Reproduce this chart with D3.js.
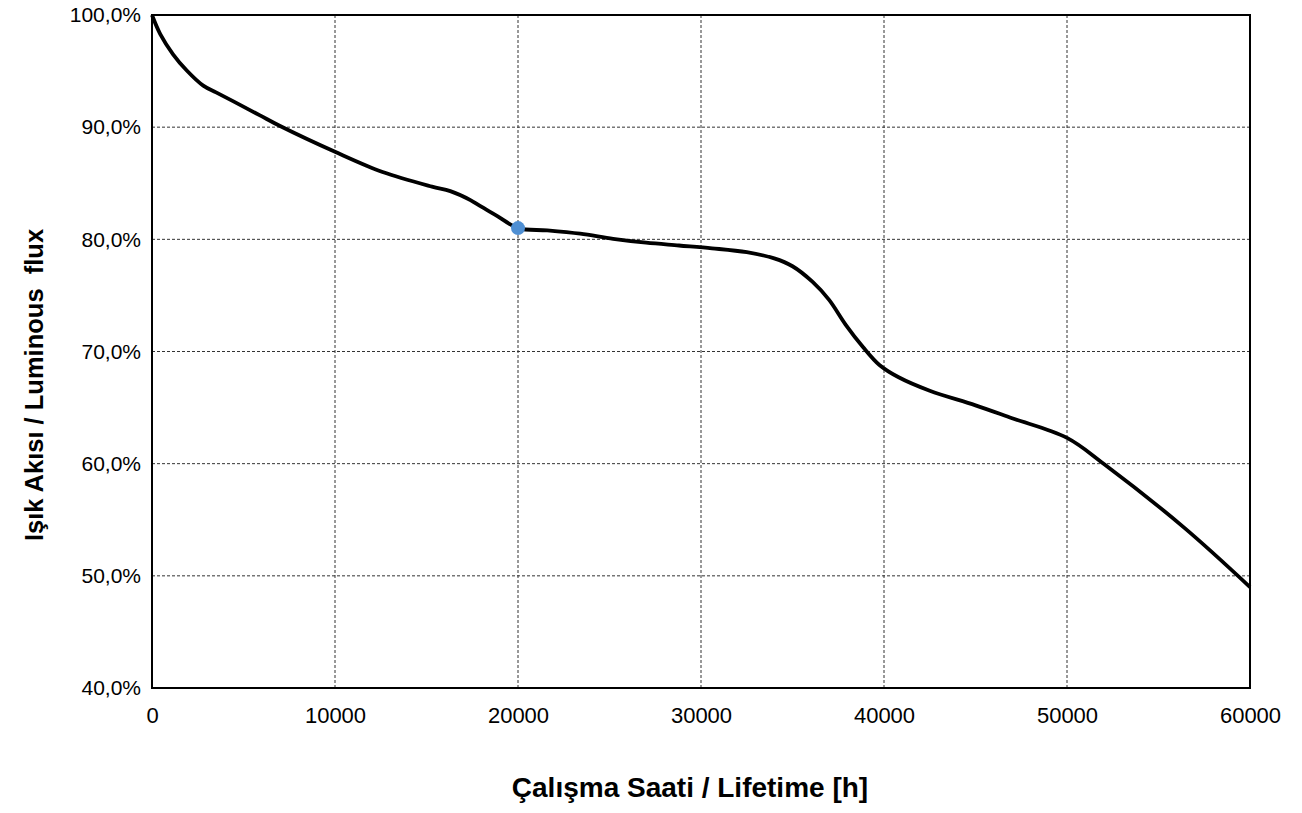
<!DOCTYPE html>
<html>
<head>
<meta charset="utf-8">
<script src="https://cdn.jsdelivr.net/npm/d3@7"></script>
<style>
  body { margin: 0; background: #fff; }
  text { font-family: "Liberation Sans", Arial, sans-serif; }
</style>
</head>
<body>
<div id="chart"></div>
<script>
// hours / luminous flux (%)
var hours = [0, 450, 1150, 1900, 2800, 3500, 4450, 5900, 7000, 10000, 12600, 15300,
             16300, 17400, 17900, 18850, 20000, 21600, 23400, 25200, 27000, 28800,
             30600, 32500, 34000, 35000, 36100, 37000, 37900, 38850, 39750, 40800,
             42500, 45000, 47000, 50000, 52000, 56400, 60000];
var flux = [100, 98.3, 96.5, 95.05, 93.7, 93.1, 92.3, 91.05, 90.1, 87.8, 86.0, 84.7,
            84.3, 83.5, 83.0, 82.1, 81.0, 80.8, 80.5, 80.05, 79.7, 79.45,
            79.2, 78.85, 78.3, 77.6, 76.2, 74.6, 72.4, 70.4, 68.8, 67.7,
            66.5, 65.2, 64.05, 62.3, 60.0, 54.3, 49.0];
var xTicks = [0, 10000, 20000, 30000, 40000, 50000, 60000];
var yTicks = [40, 50, 60, 70, 80, 90, 100];
var marker = { h: 20000, v: 81.0 };

var margin = {top: 15, right: 52, bottom: 125, left: 152},
    width = 1302 - margin.left - margin.right,
    height = 813 - margin.top - margin.bottom;

var svg = d3.select("#chart").append("svg")
    .attr("width", 1302)
    .attr("height", 813);

var g = svg.append("g")
    .attr("transform", "translate(" + margin.left + "," + margin.top + ")");

var x = d3.scaleLinear().domain([0, 60000]).range([0, width]);
var y = d3.scaleLinear().domain([40, 100]).range([height, 0]);

// grid
g.append("g").selectAll("line")
  .data(xTicks.slice(1, -1))
  .enter().append("line")
    .attr("x1", function(d) { return x(d); })
    .attr("x2", function(d) { return x(d); })
    .attr("y1", 0).attr("y2", height)
    .attr("stroke", "#333").attr("stroke-width", 1)
    .attr("stroke-dasharray", "3,2");

g.append("g").selectAll("line")
  .data(yTicks.slice(1, -1))
  .enter().append("line")
    .attr("y1", function(d) { return y(d); })
    .attr("y2", function(d) { return y(d); })
    .attr("x1", 0).attr("x2", width)
    .attr("stroke", "#333").attr("stroke-width", 1)
    .attr("stroke-dasharray", "3,2");

// axes
var xAxis = g.append("g")
    .attr("transform", "translate(0," + height + ")")
    .call(d3.axisBottom(x).tickValues(xTicks).tickSize(0).tickPadding(19).tickFormat(d3.format("d")));
xAxis.select(".domain").remove();
xAxis.selectAll("text").attr("font-size", "22px").attr("fill", "#000")
    .attr("font-family", "Liberation Sans, Arial, sans-serif");

var fmtPct = function(d) { return d.toFixed(1).replace(".", ",") + "%"; };
var yAxis = g.append("g")
    .call(d3.axisLeft(y).tickValues(yTicks).tickSize(0).tickPadding(11).tickFormat(fmtPct));
yAxis.select(".domain").remove();
yAxis.selectAll("text").attr("font-size", "21px").attr("fill", "#000")
    .attr("font-family", "Liberation Sans, Arial, sans-serif");

// frame
g.append("rect")
    .attr("width", width).attr("height", height)
    .attr("fill", "none").attr("stroke", "#000").attr("stroke-width", 2);

// curve
var pts = hours.map(function(h, i) { return [h, flux[i]]; });
var line = d3.line()
    .x(function(d) { return x(d[0]); })
    .y(function(d) { return y(d[1]); })
    .curve(d3.curveCatmullRom.alpha(0.5));

g.append("path")
    .datum(pts)
    .attr("d", line)
    .attr("fill", "none")
    .attr("stroke", "#000")
    .attr("stroke-width", 3.8);

g.append("circle")
    .attr("cx", x(marker.h))
    .attr("cy", y(marker.v))
    .attr("r", 7)
    .attr("fill", "#4f8fd3");

// titles
svg.append("text")
    .attr("x", 690).attr("y", 797)
    .attr("text-anchor", "middle")
    .attr("font-size", "28px").attr("font-weight", "bold")
    .text("Çalışma Saati / Lifetime [h]");

svg.append("text")
    .attr("transform", "translate(43,385) rotate(-90)")
    .attr("text-anchor", "middle")
    .attr("font-size", "25.5px").attr("font-weight", "bold")
    .attr("xml:space", "preserve")
    .text("Işık Akısı / Luminous  flux");
</script>
</body>
</html>
